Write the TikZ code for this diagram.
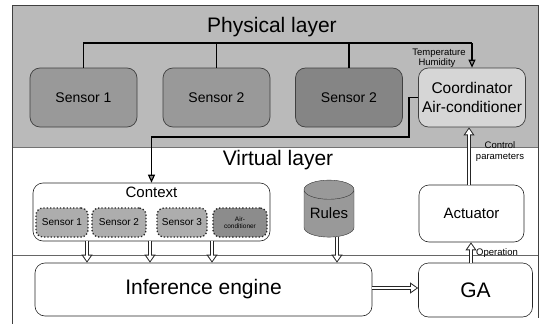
\documentclass[tikz,border=0pt]{standalone}
\usepackage{fontspec}
\setmainfont{Liberation Sans}
\usetikzlibrary{arrows.meta,shapes.geometric}
\begin{document}
\begin{tikzpicture}[x=1pt,y=-1pt,
  title/.style={inner sep=0pt, font=\fontsize{21}{24}\selectfont},
  psensor/.style={draw=black!75, line width=0.7pt, rounded corners=10pt, fill=black!40,
    minimum width=107pt, minimum height=59pt, inner sep=0pt, font=\fontsize{14}{16}\selectfont},
  vbox/.style={draw=black!85, line width=0.6pt, rounded corners=10pt, fill=white, inner sep=0pt},
  csensor/.style={draw=black!85, line width=1.3pt, dotted, rounded corners=7pt, fill=black!32,
    minimum height=29pt, inner sep=0pt, font=\fontsize{10}{12}\selectfont},
  small/.style={inner sep=0pt, font=\fontsize{9.5}{11}\selectfont},
  mid/.style={inner sep=0pt, font=\fontsize{15}{18}\selectfont},
  bus/.style={draw=black, line width=1.1pt},
  tip/.style={-{Triangle[length=8pt,width=7pt,fill=black!45]}},
  hollow/.style={draw=white, line width=2.6pt, -{Triangle[length=5.5pt,width=7pt]}, shorten >=1.6pt,
    preaction={draw=black!85, line width=4.6pt, -{Triangle[length=8pt,width=10.5pt]}, shorten >=0pt}}
]
\useasboundingbox (0,0) rectangle (544,324);
% layers
\fill[black!27] (12,5) rectangle (538,147);
\draw[black!55, line width=0.5pt] (12,147) -- (538,147);
\draw[black!60, line width=0.5pt] (12,255) -- (538,255);
\draw[black!75, line width=0.6pt] (12,324) -- (12,5) -- (538,5) -- (538,318);

% physical layer
\node[title] (ptitle) at (272,27) {Physical layer};
\node[psensor] (s1) at (83.5,97.5) {Sensor 1};
\node[psensor] (s2) at (216.5,97.5) {Sensor 2};
\node[psensor, fill=black!48] (s3) at (349,97.5) {Sensor 2};
\node[psensor, fill=black!16, align=center, font=\fontsize{15.5}{19}\selectfont] (coord) at (472,97.5) {Coordinator\\Air-conditioner};

\coordinate (busL) at (83.5,43);
\coordinate (busR) at (472,43);
\draw[bus] (s1.north) -- (busL) -- (busR);
\draw[bus] (s2.north) -- (s2.north |- busL);
\draw[bus] (s3.north) -- (s3.north |- busL);
\draw[bus, tip] (busR) -- (coord.north);
\node[small] (temp) at (439,53) {Temperature};
\node[small] (hum) at (437,63) {Humidity};

% virtual layer
\node[title] (vtitle) at (278,160) {Virtual layer};
\node[vbox, minimum width=237pt, minimum height=58pt] (ctx) at (151.5,212) {};
\node[mid] (ctxt) at (151.5,192) {Context};
\node[csensor, minimum width=52pt] (cs1) at (62,222.5) {Sensor 1};
\node[csensor, minimum width=54pt] (cs2) at (119,222.5) {Sensor 2};
\node[csensor, minimum width=50pt] (cs3) at (182,222.5) {Sensor 3};
\node[csensor, minimum width=54pt, fill=black!45, align=center, font=\fontsize{6.5}{7.5}\selectfont] (cs4) at (240,222.5) {Air-\\conditioner};

\coordinate (k1) at (409,137);
\draw[bus, tip] (coord.west) -| (k1) -| (ctx.north);

\node[cylinder, shape border rotate=90, aspect=0.5, draw=black!80, fill=black!40,
  minimum width=50pt, minimum height=57pt, inner sep=0pt, mid] (rules) at (329,213.5) {Rules};

\node[vbox, minimum width=105pt, minimum height=57pt, mid] (act) at (471.5,213.5) {Actuator};
\node[vbox, minimum width=337pt, minimum height=53pt, title] (inf) at (203.5,289.5) {Inference engine};
\node[vbox, minimum width=114pt, minimum height=54pt, title] (ga) at (475.5,290) {GA};

% hollow arrows
\coordinate (a1) at (87,0);
\coordinate (a2) at (150,0);
\coordinate (a3) at (212,0);
\coordinate (ar) at (337,0);
\coordinate (gy) at (0,288);
\coordinate (ox) at (471,0);
\coordinate (cx) at (469,0);
\draw[hollow] (ctx.south -| a1) -- (inf.north -| a1);
\draw[hollow] (ctx.south -| a2) -- (inf.north -| a2);
\draw[hollow] (ctx.south -| a3) -- (inf.north -| a3);
\draw[hollow] (rules.south -| ar) -- (inf.north -| ar);
\draw[hollow] (inf.east |- gy) -- (ga.west |- gy);
\draw[hollow] (ga.north -| ox) -- (act.south -| ox);
\draw[hollow] (act.north -| cx) -- (coord.south -| cx);

\node[small] (op) at (497,253) {Operation};
\node[small] (ctl) at (500,145) {Control};
\node[small] (par) at (500,157) {parameters};
\end{tikzpicture}
\end{document}
